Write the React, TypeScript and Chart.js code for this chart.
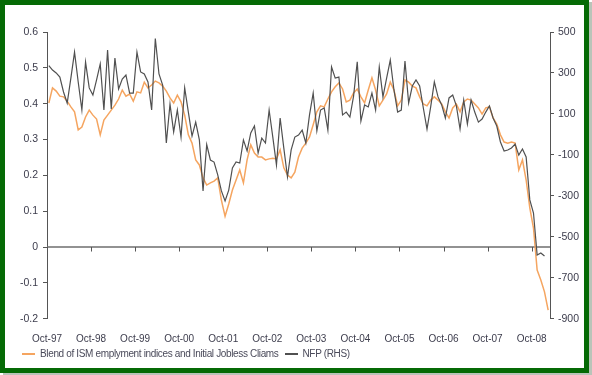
import React, { useEffect, useRef } from "react";
import { Chart, registerables } from "chart.js";

Chart.register(...registerables);

// Year labels on the x axis (one every 12 months, Oct-97 .. Oct-08)
const tickLabels = [
  "Oct-97", "Oct-98", "Oct-99", "Oct-00", "Oct-01", "Oct-02",
  "Oct-03", "Oct-04", "Oct-05", "Oct-06", "Oct-07", "Oct-08",
];

// Blend of ISM employment indices and Initial Jobless Claims (LHS), monthly from Oct-97 to Feb-09
const blend = [
  0.402, 0.444, 0.435, 0.421, 0.419, 0.407, 0.391, 0.377, 0.327, 0.335, 0.363, 0.382,
  0.368, 0.357, 0.313, 0.354, 0.368, 0.382, 0.396, 0.413, 0.438, 0.421, 0.427, 0.407,
  0.433, 0.430, 0.460, 0.444, 0.452, 0.463, 0.458, 0.449, 0.435, 0.416, 0.402, 0.424,
  0.405, 0.368, 0.313, 0.290, 0.243, 0.229, 0.193, 0.173, 0.179, 0.184, 0.193, 0.131,
  0.086, 0.120, 0.159, 0.187, 0.215, 0.179, 0.243, 0.285, 0.262, 0.251, 0.251, 0.243,
  0.246, 0.248, 0.246, 0.271, 0.221, 0.201, 0.193, 0.209, 0.251, 0.276, 0.290, 0.307,
  0.341, 0.377, 0.394, 0.391, 0.413, 0.433, 0.447, 0.458, 0.441, 0.405, 0.410, 0.430,
  0.441, 0.419, 0.402, 0.438, 0.472, 0.438, 0.394, 0.410, 0.427, 0.460, 0.438, 0.394,
  0.410, 0.466, 0.460, 0.449, 0.444, 0.419, 0.399, 0.394, 0.410, 0.419, 0.410, 0.399,
  0.377, 0.360, 0.388, 0.399, 0.377, 0.405, 0.413, 0.410, 0.399, 0.388, 0.371, 0.388,
  0.391, 0.360, 0.343, 0.313, 0.293, 0.290, 0.293, 0.290, 0.215, 0.243, 0.187, 0.109,
  0.053, -0.064, -0.092, -0.125, -0.176,
];

// Non-farm payrolls, thousands (RHS), monthly from Oct-97 to Jan-09
const nfp = [
  336, 314, 300, 280, 207, 153, 275, 402, 256, 119, 353, 227,
  192, 266, 344, 119, 412, 124, 373, 222, 270, 290, 202, 202,
  402, 305, 295, 256, 119, 468, 295, 241, -42, 148, 12, 119,
  -13, 227, 109, -8, 60, -27, -276, -50, -125, -135, -198, -276,
  -325, -272, -164, -135, -140, -27, -81, 7, 41, -91, -18, -42,
  119, -13, -149, 80, -67, -208, -76, -13, -3, 21, -42, 95,
  202, 17, 119, 129, 21, 329, 275, 280, 95, 109, 85, 187,
  354, 65, 144, 134, 202, 119, 329, 183, 275, 363, 217, 109,
  119, 358, 153, 236, 266, 236, 129, 26, 134, 256, 183, 144,
  80, 178, 192, 139, 26, 168, 51, 168, 109, 60, 75, 109,
  139, 80, 41, -37, -81, -76, -66, -47, -101, -71, -110, -320,
  -384, -589, -579, -594,
];

const seriesNames = [
  "Blend of ISM emplyment indices and Initial Jobless Cliams",
  "NFP (RHS)",
];

const ORANGE = "#f5a560";
const GREY = "#505050";
const TEXT = "#3c3c4c";
const FONT = "'Liberation Sans', Arial, sans-serif";

const zeroLinePlugin = {
  id: "zeroLine",
  beforeDatasetsDraw(chart: any) {
    const { ctx, chartArea, scales } = chart;
    const y0 = scales.yL.getPixelForValue(0);
    ctx.save();
    ctx.strokeStyle = "#6e6e6e";
    ctx.lineWidth = 1.6;
    ctx.beginPath();
    ctx.moveTo(chartArea.left, y0);
    ctx.lineTo(chartArea.right, y0);
    ctx.stroke();
    ctx.lineWidth = 1;
    ctx.strokeStyle = "#555";
    tickLabels.forEach((_, i) => {
      const x = Math.round(scales.x.getPixelForValue(i * 12)) + 0.5;
      ctx.beginPath();
      ctx.moveTo(x, y0);
      ctx.lineTo(x, y0 + 4.5);
      ctx.stroke();
    });
    ctx.restore();
  },
};

export default function App() {
  const ref = useRef<HTMLCanvasElement | null>(null);

  useEffect(() => {
    document.body.style.margin = "0";
    const canvas = ref.current;
    if (!canvas) return;
    const chart = new Chart(canvas, {
      type: "line",
      data: {
        datasets: [
          {
            label: seriesNames[1],
            data: nfp.map((v, i) => ({ x: i + 0.5, y: v })),
            yAxisID: "yR",
            borderColor: GREY,
            borderWidth: 1.2,
            pointRadius: 0,
            tension: 0,
          },
          {
            label: seriesNames[0],
            data: blend.map((v, i) => ({ x: i + 0.5, y: v })),
            yAxisID: "yL",
            borderColor: ORANGE,
            borderWidth: 1.5,
            pointRadius: 0,
            tension: 0,
          },
        ],
      },
      options: {
        responsive: false,
        animation: false,
        devicePixelRatio: 1,
        layout: { padding: { top: 32, left: 0, right: 0, bottom: 0 } },
        plugins: { legend: { display: false }, tooltip: { enabled: false } },
        scales: {
          x: {
            type: "linear",
            min: 0,
            max: 137,
            afterBuildTicks: (s: any) => {
              s.ticks = tickLabels.map((_, i) => ({ value: i * 12 }));
            },
            afterFit: (s: any) => {
              s.height = 56.3;
            },
            grid: { display: false },
            border: { display: false },
            ticks: {
              autoSkip: false,
              maxRotation: 0,
              padding: 7,
              color: TEXT,
              font: { family: FONT, size: 10 },
              callback: (_v: any, i: number) => tickLabels[i],
            },
          },
          yL: {
            type: "linear",
            position: "left",
            min: -0.2,
            max: 0.6,
            afterFit: (s: any) => {
              s.width = 47;
            },
            grid: { drawOnChartArea: false, drawTicks: true, tickLength: 4, color: "#555" },
            border: { display: true, color: "#555", width: 1 },
            ticks: {
              stepSize: 0.1,
              padding: 5,
              color: TEXT,
              font: { family: FONT, size: 10.5 },
              callback: (v: any) => String(Number(Number(v).toFixed(1))),
            },
          },
          yR: {
            type: "linear",
            position: "right",
            min: -900,
            max: 500,
            afterFit: (s: any) => {
              s.width = 42;
            },
            grid: { drawOnChartArea: false, drawTicks: true, tickLength: 4, color: "#555" },
            border: { display: true, color: "#555", width: 1 },
            ticks: {
              stepSize: 200,
              padding: 4,
              color: TEXT,
              font: { family: FONT, size: 10.5 },
            },
          },
        },
      },
      plugins: [zeroLinePlugin],
    } as any);
    return () => chart.destroy();
  }, []);

  const legendItem = (color: string, text: string, width: number) => (
    <span style={{ display: "inline-flex", alignItems: "center", marginRight: 6 }}>
      <span
        style={{
          display: "inline-block",
          width: width,
          height: 2,
          background: color,
          marginRight: 5,
        }}
      />
      <span>{text}</span>
    </span>
  );

  return (
    <div style={{ position: "fixed", left: 0, top: 0, width: 592, height: 375, background: "#fff" }}>
      <div
        style={{
          position: "absolute",
          left: 0,
          top: 0,
          width: 579,
          height: 363,
          border: "5px solid #056a05",
          boxShadow: "3px 2px 0 #b9c4b9",
          background: "#fff",
        }}
      />
      <canvas
        ref={ref}
        width={592}
        height={375}
        style={{ position: "absolute", left: 0, top: 0, width: 592, height: 375 }}
      />
      <div
        style={{
          position: "absolute",
          left: 22,
          top: 348,
          fontFamily: FONT,
          fontSize: 10,
          letterSpacing: "-0.35px",
          color: "#4a4a5a",
          whiteSpace: "nowrap",
          display: "flex",
          alignItems: "center",
        }}
      >
        {legendItem(ORANGE, seriesNames[0], 13)}
        {legendItem(GREY, seriesNames[1], 13)}
      </div>
    </div>
  );
}
